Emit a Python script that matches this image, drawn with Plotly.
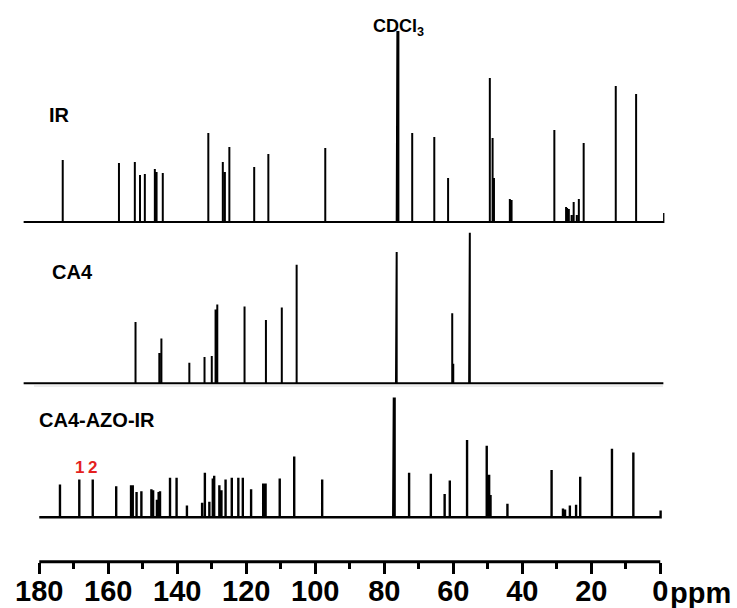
import plotly.graph_objects as go

# ---------------- data (ppm positions and peak heights) ----------------
IR_ppm = [173.2, 156.9, 152.3, 150.8, 149.4, 146.5, 146.0, 144.2, 131.0, 126.8, 126.2, 124.9,
          117.7, 113.6, 97.1, 76.4, 76.2, 75.9, 71.9, 65.5, 61.5, 49.4, 48.6, 48.2, 43.6, 43.1,
          30.7, 27.3, 27.0, 26.5, 25.7, 25.1, 24.2, 23.6, 22.2, 12.9, 7.0]
IR_int = [62, 59, 60, 47, 48, 53, 50, 49, 89, 60, 50, 75,
          55, 68, 74, 20, 191, 191, 89, 85, 44, 144, 84, 44, 23, 22,
          92, 15, 14, 13, 7, 20, 7, 23, 79, 136, 128]
IR_range = [184.6, -1.1]
IR_end_marker = 9

CA4_ppm = [152.1, 145.2, 144.6, 136.5, 132.1, 130.0, 128.9, 128.4, 120.5, 114.3, 109.7, 105.4,
           76.6, 76.4, 60.3, 60.0, 55.4, 55.2]
CA4_int = [63, 31, 46, 21, 27, 28, 76, 81, 79, 65, 78, 122,
           128, 135, 72, 20, 68, 155]
CA4_range = [184.6, -0.9]
CA4_end_marker = 0

AZO_ppm = [174.0, 168.4, 164.5, 157.7, 153.4, 152.9, 151.8, 150.4, 147.5, 147.0, 145.9, 145.4,
           145.0, 142.1, 140.2, 137.2, 132.8, 132.0, 130.7, 129.7, 129.3, 127.8, 127.2, 126.0,
           124.2, 122.3, 121.0, 118.6, 115.1, 114.4, 110.3, 106.1, 98.0, 77.4, 77.2, 77.0,
           72.8, 66.5, 62.5, 61.0, 56.0, 50.3, 49.6, 49.2, 44.3, 31.5, 28.2, 27.6, 26.2, 24.4,
           23.2, 14.0, 7.8]
AZO_int = [34, 39, 39, 32, 33, 33, 26, 27, 29, 28, 18, 26,
           27, 41, 41, 12, 15, 46, 16, 40, 43, 33, 28, 39,
           41, 41, 41, 29, 35, 35, 40, 63, 39, 12, 124, 124,
           46, 45, 24, 38, 80, 74, 44, 23, 14, 49, 9, 8, 12, 13,
           42, 71, 67]
AZO_range = [180.0, -0.1]
AZO_end_marker = 7

spectrum_names = ["IR", "CA4", "CA4-AZO-IR"]
tick_vals = [180, 160, 140, 120, 100, 80, 60, 40, 20, 0]
tick_text = ["180", "160", "140", "120", "100", "80", "60", "40", "20", "0"]
marked_peaks = [(168.4, "1"), (164.5, "2")]


def sticks(ppm, inten, rng, end_h):
    pairs = sorted(zip(ppm, inten), key=lambda t: -t[0])
    xs, ys = [rng[0]], [0]
    for p, h in pairs:
        xs += [p, p, p]
        ys += [0, h, 0]
    xs.append(rng[1])
    ys.append(0)
    if end_h:
        xs.append(rng[1])
        ys.append(end_h)
    return xs, ys


W, H = 737, 608


def py(v):
    return (H - v) / H


fig = go.Figure()
for (ppm, inten, rng, endh, yax, lw) in [
    (IR_ppm, IR_int, IR_range, IR_end_marker, "y", 2),
    (CA4_ppm, CA4_int, CA4_range, CA4_end_marker, "y2", 2),
    (AZO_ppm, AZO_int, AZO_range, AZO_end_marker, "y3", 2.4),
]:
    xs, ys = sticks(ppm, inten, rng, endh)
    fig.add_trace(go.Scatter(x=xs, y=ys, mode="lines", xaxis="x", yaxis=yax,
                             line=dict(color="black", width=lw), hoverinfo="skip",
                             showlegend=False))

lbl_font = dict(family="Liberation Sans, Arial, sans-serif", size=20, color="black", weight="bold")
annotations = [
    dict(text="IR", x=47 / W, y=py(115), xref="paper", yref="paper", xanchor="left",
         yanchor="middle", showarrow=False, font=lbl_font),
    dict(text="CA4", x=50 / W, y=py(272), xref="paper", yref="paper", xanchor="left",
         yanchor="middle", showarrow=False, font=lbl_font),
    dict(text="CA4-AZO-IR", x=37 / W, y=py(420), xref="paper", yref="paper", xanchor="left",
         yanchor="middle", showarrow=False, font=lbl_font),
    dict(text="CDCl<sub>3</sub>", x=398 / W, y=py(28), xref="paper", yref="paper",
         xanchor="center", yanchor="middle", showarrow=False,
         font=dict(family="Liberation Sans, Arial, sans-serif", size=18, color="black",
                   weight="bold")),
    dict(text="ppm", x=668 / W, y=py(593), xref="paper", yref="paper", xanchor="left",
         yanchor="middle", showarrow=False,
         font=dict(family="Liberation Sans, Arial, sans-serif", size=29, color="black",
                   weight="bold")),
]
for xv, t in marked_peaks:
    annotations.append(dict(text=t, x=xv, y=52, xref="x", yref="y3", xanchor="center",
                            yanchor="middle", showarrow=False,
                            font=dict(family="Liberation Sans, Arial, sans-serif", size=17,
                                      color="#e41f1f", weight="bold")))

axis_y = py(561.7)
shapes = [
    dict(type="line", xref="x", yref="paper", x0=180, x1=0, y0=axis_y, y1=axis_y,
         line=dict(color="black", width=3)),
    dict(type="line", xref="paper", yref="paper", x0=34 / W, x1=663 / W, y0=py(386),
         y1=py(386), line=dict(color="#dcdcdc", width=1)),
]

fig.update_layout(
    width=W, height=H,
    margin=dict(l=0, r=0, t=0, b=0, pad=0),
    paper_bgcolor="white", plot_bgcolor="rgba(0,0,0,0)",
    showlegend=False,
    xaxis=dict(domain=[23.4 / W, 664.4 / W], range=[184.6, -1.2], anchor="free",
               position=axis_y, showline=False, showgrid=False, zeroline=False,
               tickmode="array", tickvals=tick_vals, ticktext=tick_text,
               ticks="outside", ticklen=11, tickwidth=3, tickcolor="black",
               ticklabelstandoff=-8,
               tickfont=dict(family="Liberation Sans, Arial, sans-serif", size=29,
                             color="black", weight="bold"),
               minor=dict(dtick=10, tick0=0, ticks="outside", ticklen=6, tickwidth=3,
                          tickcolor="black", showgrid=False),
               automargin=False, fixedrange=True),
    yaxis=dict(domain=[py(227), py(22)], range=[-5, 200], visible=False, anchor="x",
               fixedrange=True),
    yaxis2=dict(domain=[py(388), py(223)], range=[-5, 165], visible=False, anchor="x",
                fixedrange=True),
    yaxis3=dict(domain=[py(522), py(387)], range=[-5, 135], visible=False, anchor="x",
                fixedrange=True),
    annotations=annotations,
    shapes=shapes,
)

fig.write_html("out.html", config={"displayModeBar": False},
               post_script="document.body.style.margin='0px';"
                           "document.body.style.overflow='hidden';")
